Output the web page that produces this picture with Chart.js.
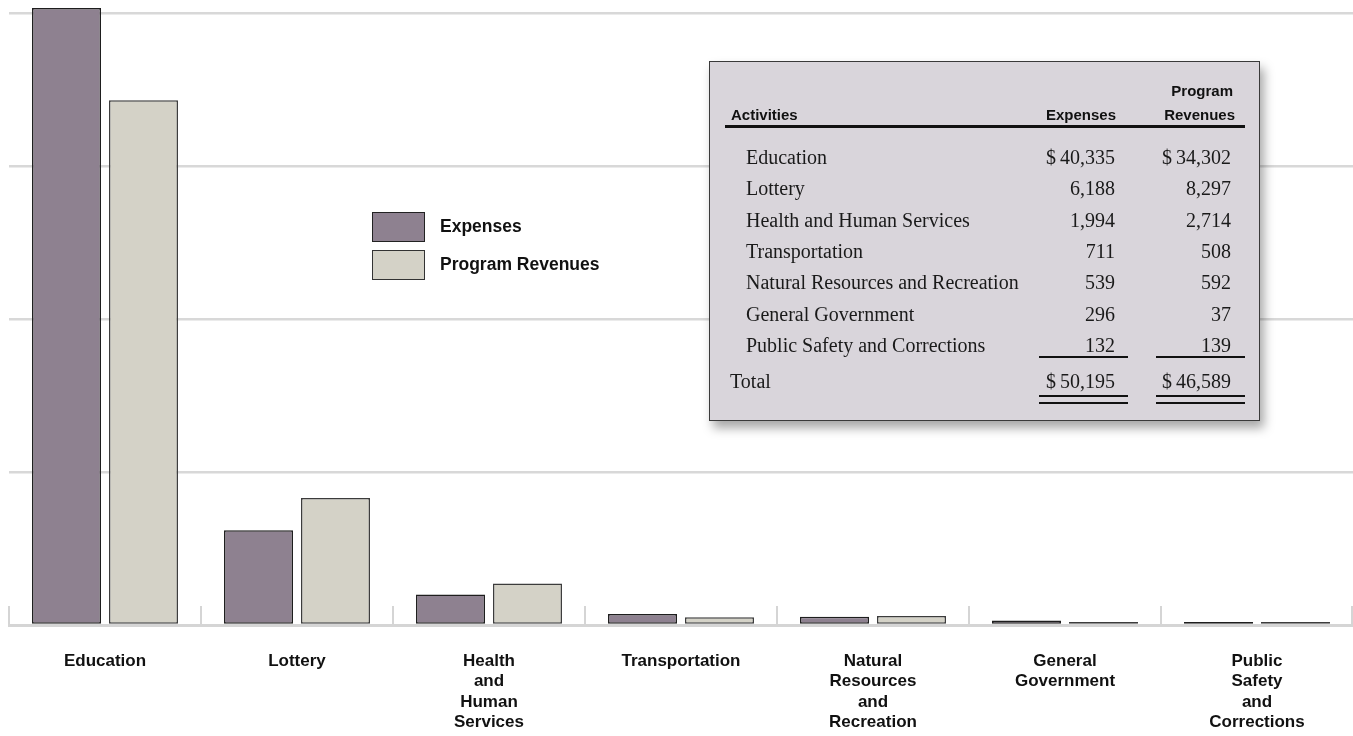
<!DOCTYPE html>
<html>
<head>
<meta charset="utf-8">
<script src="https://cdn.jsdelivr.net/npm/chart.js@4.4.1/dist/chart.umd.min.js"></script>
<style>
  html, body { margin: 0; padding: 0; background: #fff; }
  #wrap { position: relative; width: 1353px; height: 736px; overflow: hidden; }
  #chart { position: absolute; left: 0; top: 0; }
  .t { position: absolute; white-space: nowrap; line-height: 1; color: #111; }
  .sans { font-family: "Liberation Sans", Arial, sans-serif; font-weight: bold; }
  .serif { font-family: "Liberation Serif", "Times New Roman", serif; font-size: 20px; color: #1a1a1a; }
  .rule { position: absolute; background: #111; }
  .swatch { position: absolute; width: 51px; height: 28px; box-sizing: content-box; }
  #box {
    position: absolute; left: 709px; top: 61px; width: 551px; height: 360px;
    box-sizing: border-box; background: #d9d5db; border: 1.5px solid #3a3a3a;
    box-shadow: 4px 7px 10px rgba(0,0,0,0.35);
  }
</style>
</head>
<body>
<div id="wrap">
  <canvas id="chart" width="1353" height="736"></canvas>
  <div id="box"></div>
  <div id="overlay"></div>
</div>
<script>
// axis labels, one line per entry
const categories = [
  ['Education'],
  ['Lottery'],
  ['Health', 'and', 'Human', 'Services'],
  ['Transportation'],
  ['Natural', 'Resources', 'and', 'Recreation'],
  ['General', 'Government'],
  ['Public', 'Safety', 'and', 'Corrections']
];
const activities = [
  'Education', 'Lottery', 'Health and Human Services', 'Transportation',
  'Natural Resources and Recreation', 'General Government', 'Public Safety and Corrections'
];
const expenses = [40335, 6188, 1994, 711, 539, 296, 132];
const programRevenues = [34302, 8297, 2714, 508, 592, 37, 139];
const yTicks = [0, 10000, 20000, 30000, 40000];

const expColor = '#8e8190';
const revColor = '#d4d2c7';

// baseline plus short tick marks at category boundaries, under the bars
const baseline = {
  id: 'baseline',
  beforeDatasetsDraw(chart) {
    const x = chart.scales.x;
    const ctx = chart.ctx;
    const n = chart.data.labels.length;
    const step = (x.right - x.left) / n;
    ctx.save();
    ctx.strokeStyle = '#d5d5d5';
    ctx.lineWidth = 3;
    ctx.beginPath();
    ctx.moveTo(x.left - 1, x.top + 0.5);
    ctx.lineTo(x.right, x.top + 0.5);
    ctx.stroke();
    ctx.lineWidth = 2;
    for (let i = 0; i <= n; i++) {
      const px = Math.min(x.left + i * step, x.right - 1);
      ctx.beginPath();
      ctx.moveTo(px, x.top - 19);
      ctx.lineTo(px, x.top);
      ctx.stroke();
    }
    ctx.restore();
  }
};

const ctx = document.getElementById('chart').getContext('2d');
new Chart(ctx, {
  type: 'bar',
  data: {
    labels: categories,
    datasets: [
      {
        label: 'Expenses',
        data: expenses,
        backgroundColor: expColor,
        borderColor: '#1e1e1e',
        borderWidth: 1.5,
        borderSkipped: false,
        minBarLength: 3,
        categoryPercentage: 0.802,
        barPercentage: 0.896
      },
      {
        label: 'Program Revenues',
        data: programRevenues,
        backgroundColor: revColor,
        borderColor: '#3c3c3c',
        borderWidth: 1.5,
        borderSkipped: false,
        minBarLength: 3,
        categoryPercentage: 0.802,
        barPercentage: 0.896
      }
    ]
  },
  options: {
    responsive: false,
    animation: false,
    devicePixelRatio: 1,
    layout: { padding: { left: 9, right: 0, top: 0, bottom: 0 } },
    plugins: { legend: { display: false }, tooltip: { enabled: false } },
    scales: {
      x: {
        grid: { display: false, drawTicks: false },
        border: { display: false },
        ticks: {
          padding: 26,
          color: '#111',
          autoSkip: false,
          maxRotation: 0,
          font: { family: '"Liberation Sans", Arial, sans-serif', size: 17, weight: 'bold', lineHeight: 1.2 }
        },
        afterFit: s => { s.height = 111; }
      },
      y: {
        min: 0,
        max: 40850,
        afterBuildTicks: s => { s.ticks = yTicks.map(v => ({ value: v })); },
        ticks: { display: false },
        grid: { color: '#d8d8d8', lineWidth: 2.5, drawTicks: false },
        border: { display: false },
        afterFit: s => { s.width = 0; }
      }
    }
  },
  plugins: [baseline]
});

// legend and summary table as html text
const overlay = document.getElementById('overlay');
function text(str, x, y, cls, align, size) {
  const d = document.createElement('div');
  d.className = 't ' + cls;
  d.textContent = str;
  if (size) d.style.fontSize = size + 'px';
  d.style.top = y + 'px';
  d.style.left = x + 'px';
  d.style.transform = align === 'right' ? 'translate(-100%, -50%)' : 'translate(0, -50%)';
  overlay.appendChild(d);
}
function rule(x, y, w, h) {
  const d = document.createElement('div');
  d.className = 'rule';
  d.style.left = x + 'px'; d.style.top = y + 'px';
  d.style.width = w + 'px'; d.style.height = h + 'px';
  overlay.appendChild(d);
}
function swatch(x, y, fill, border) {
  const d = document.createElement('div');
  d.className = 'swatch';
  d.style.left = x + 'px'; d.style.top = y + 'px';
  d.style.background = fill;
  d.style.border = '1.5px solid ' + border;
  overlay.appendChild(d);
}

swatch(372, 212, expColor, '#222');
swatch(372, 250, revColor, '#333');
text('Expenses', 440, 227, 'sans', 'left', 17.5);
text('Program Revenues', 440, 265, 'sans', 'left', 17.5);

const fmt = v => v.toLocaleString('en-US');
const money = v => '$\u2009' + fmt(v);

text('Program', 1233, 90, 'sans', 'right', 15);
text('Activities', 731, 114, 'sans', 'left', 15);
text('Expenses', 1116, 114, 'sans', 'right', 15);
text('Revenues', 1235, 114, 'sans', 'right', 15);
rule(725, 125, 520, 2.5);

activities.forEach((name, i) => {
  const y = 157 + i * 31.3;
  text(name, 746, y, 'serif', 'left');
  text(i === 0 ? money(expenses[i]) : fmt(expenses[i]), 1115, y, 'serif', 'right');
  text(i === 0 ? money(programRevenues[i]) : fmt(programRevenues[i]), 1231, y, 'serif', 'right');
});
rule(1039, 356, 89, 2);
rule(1156, 356, 89, 2);

const totalExp = expenses.reduce((a, b) => a + b, 0);
const totalRev = programRevenues.reduce((a, b) => a + b, 0);
text('Total', 730, 381, 'serif', 'left');
text(money(totalExp), 1115, 381, 'serif', 'right');
text(money(totalRev), 1231, 381, 'serif', 'right');
rule(1039, 395, 89, 2);
rule(1039, 401.5, 89, 2);
rule(1156, 395, 89, 2);
rule(1156, 401.5, 89, 2);
</script>
</body>
</html>
